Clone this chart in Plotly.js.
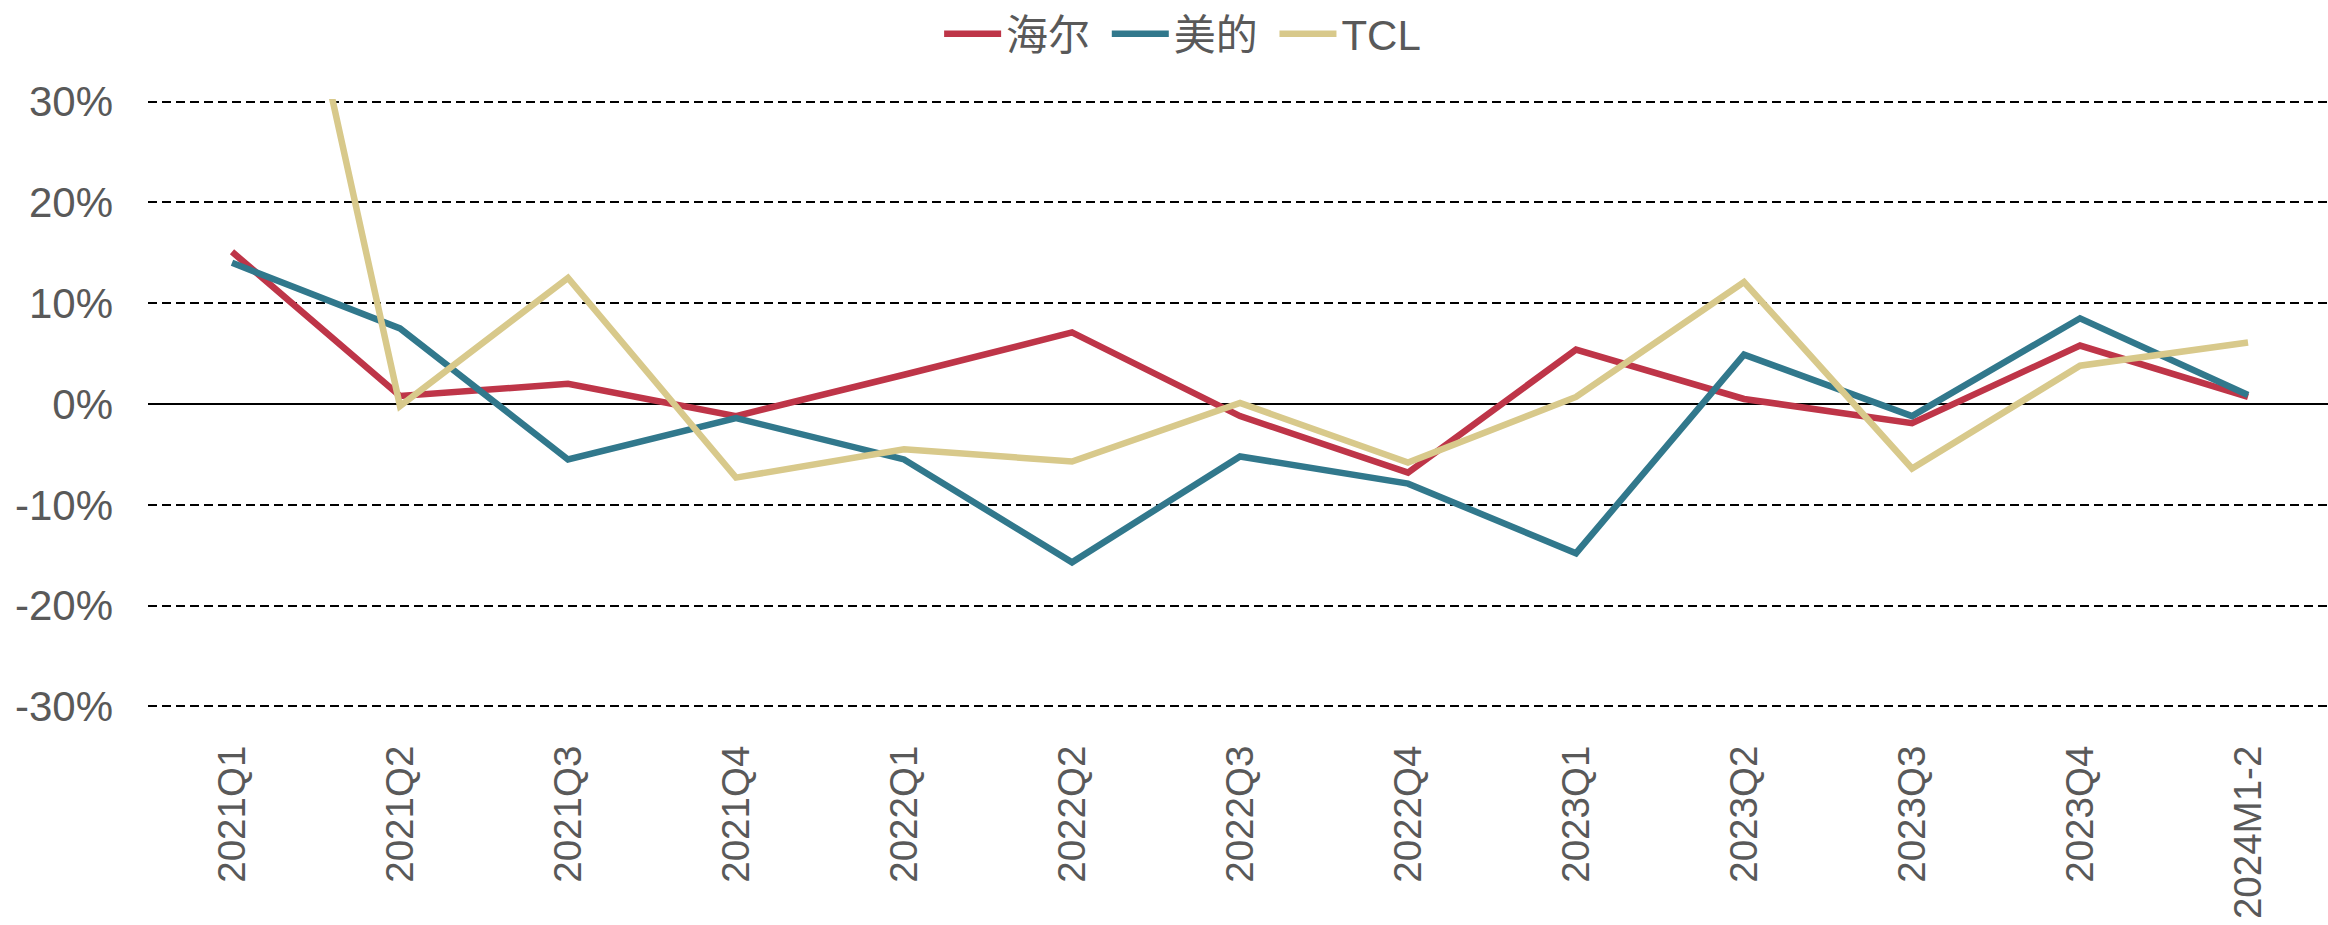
<!DOCTYPE html>
<html>
<head>
<meta charset="utf-8">
<script src="https://cdn.plot.ly/plotly-3.0.1.min.js"></script>
<style>html,body{margin:0;padding:0;background:#fff;}#chart{width:2328px;height:925px;}</style>
</head>
<body>
<div id="chart"></div>
<script>
const categories = ['2021Q1','2021Q2','2021Q3','2021Q4','2022Q1','2022Q2','2022Q3','2022Q4','2023Q1','2023Q2','2023Q3','2023Q4','2024M1-2'];
const haier = [15.1, 0.8, 2.0, -1.2, 2.9, 7.1, -1.2, -6.8, 5.4, 0.5, -1.9, 5.8, 0.7];
const midea = [14.0, 7.5, -5.5, -1.4, -5.5, -15.7, -5.2, -7.9, -14.8, 4.9, -1.2, 8.5, 0.9];
const tcl = [75.4, -0.2, 12.5, -7.3, -4.5, -5.7, 0.1, -5.8, 0.7, 12.1, -6.4, 3.8, 6.1];
const seriesNames = ['海尔', '美的', 'TCL'];
const yTicks = [-30, -20, -10, 0, 10, 20, 30];

const FONT = 'Arial, "Liberation Sans", "Noto Sans CJK SC", sans-serif';
const PAD = '\u00a0';
const xIdx = categories.map((c, i) => i);
const mk = (name, y, color) => ({
  type: 'scatter', mode: 'lines', name: name, x: xIdx, y: y,
  line: {color: color, width: 6.5}, cliponaxis: true, hoverinfo: 'skip'
});
const data = [
  mk(seriesNames[0] + PAD, haier, '#BE3548'),
  mk(seriesNames[1] + PAD, midea, '#31788C'),
  mk(seriesNames[2], tcl, '#D8C98B')
];
const layout = {
  width: 2328, height: 925,
  margin: {l: 148, r: 0, t: 99, b: 216, pad: 0},
  paper_bgcolor: '#fff', plot_bgcolor: '#fff',
  font: {family: FONT, size: 42, color: '#595959'},
  showlegend: true,
  legend: {
    orientation: 'h', xref: 'container', yref: 'container',
    x: 0.508, xanchor: 'center', y: 1, yanchor: 'top',
    font: {family: FONT, size: 42, color: '#595959'},
    itemwidth: 57, tracegroupgap: 0, bgcolor: 'rgba(0,0,0,0)'
  },
  xaxis: {
    type: 'linear', range: [-0.5, 12.476],
    tickmode: 'array', tickvals: xIdx, ticktext: categories,
    tickangle: -90, showgrid: false, zeroline: false, showline: false,
    ticks: '', ticklabelstandoff: 28,
    tickfont: {family: FONT, size: 38.5, color: '#595959'}
  },
  yaxis: {
    range: [-30.25, 30.25], tickmode: 'array', tickvals: yTicks,
    ticktext: yTicks.map(v => v + '%'),
    showgrid: true, gridcolor: '#000', gridwidth: 2, griddash: '9px,5px',
    zeroline: true, zerolinecolor: '#000', zerolinewidth: 2,
    showline: false, ticks: '', ticklabelstandoff: 34,
    tickfont: {family: FONT, size: 42, color: '#595959'}
  }
};
Plotly.newPlot('chart', data, layout, {staticPlot: true, displayModeBar: false});
</script>
</body>
</html>
